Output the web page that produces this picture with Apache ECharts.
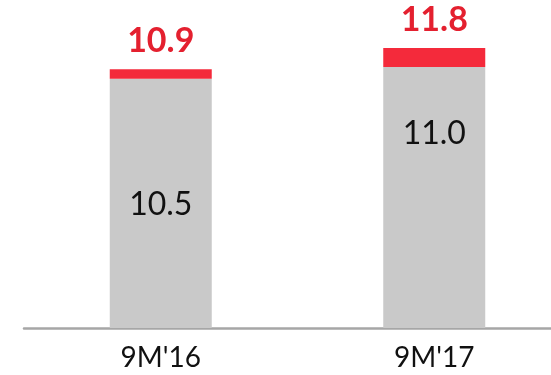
<!DOCTYPE html>
<html>
<head>
<meta charset="utf-8">
<script src="https://cdn.jsdelivr.net/npm/echarts@6/dist/echarts.min.js"></script>
<style>html,body{margin:0;padding:0;background:#fff;overflow:hidden;}#c{width:571px;height:375px;}</style>
</head>
<body>
<div id="c"></div>
<script>
var categories = ["9M'16", "9M'17"];
var baseValues = [10.5, 11.0];
var totalValues = [10.9, 11.8];
var topValues = [0.4, 0.8];

var chart = echarts.init(document.getElementById('c'));
var font = 'Lato, "Open Sans", sans-serif';
var grayOffsets = [[0, 1], [0, -64]];
chart.setOption({
  animation: false,
  grid: {left: 24, right: 0, top: 19.5, bottom: 47, containLabel: false},
  xAxis: {
    type: 'category', data: categories,
    axisLine: {lineStyle: {color: '#a6a6a6', width: 2.5}},
    axisTick: {show: false},
    axisLabel: {fontFamily: font, fontSize: 28, lineHeight: 28, color: '#111', margin: 16}
  },
  yAxis: {type: 'value', min: 0, max: 13, show: false, splitLine: {show: false}},
  series: [
    {
      type: 'bar', stack: 's', barWidth: 102,
      itemStyle: {color: '#c9c9c9'},
      data: baseValues.map(function (v, i) {
        return {value: v, label: {offset: grayOffsets[i]}};
      }),
      label: {show: true, position: 'inside', fontFamily: font, fontSize: 32, color: '#111',
        formatter: function (p) { return p.value.toFixed(1); }}
    },
    {
      type: 'bar', stack: 's', barWidth: 102,
      itemStyle: {color: '#f42a3b'},
      data: topValues.map(function (v, i) {
        return {value: v, label: {formatter: totalValues[i].toFixed(1)}};
      }),
      label: {show: true, position: 'top', distance: 11, fontFamily: font, fontSize: 34,
        lineHeight: 34, fontWeight: 'bold', color: '#e4202f'}
    }
  ]
});
</script>
</body>
</html>
